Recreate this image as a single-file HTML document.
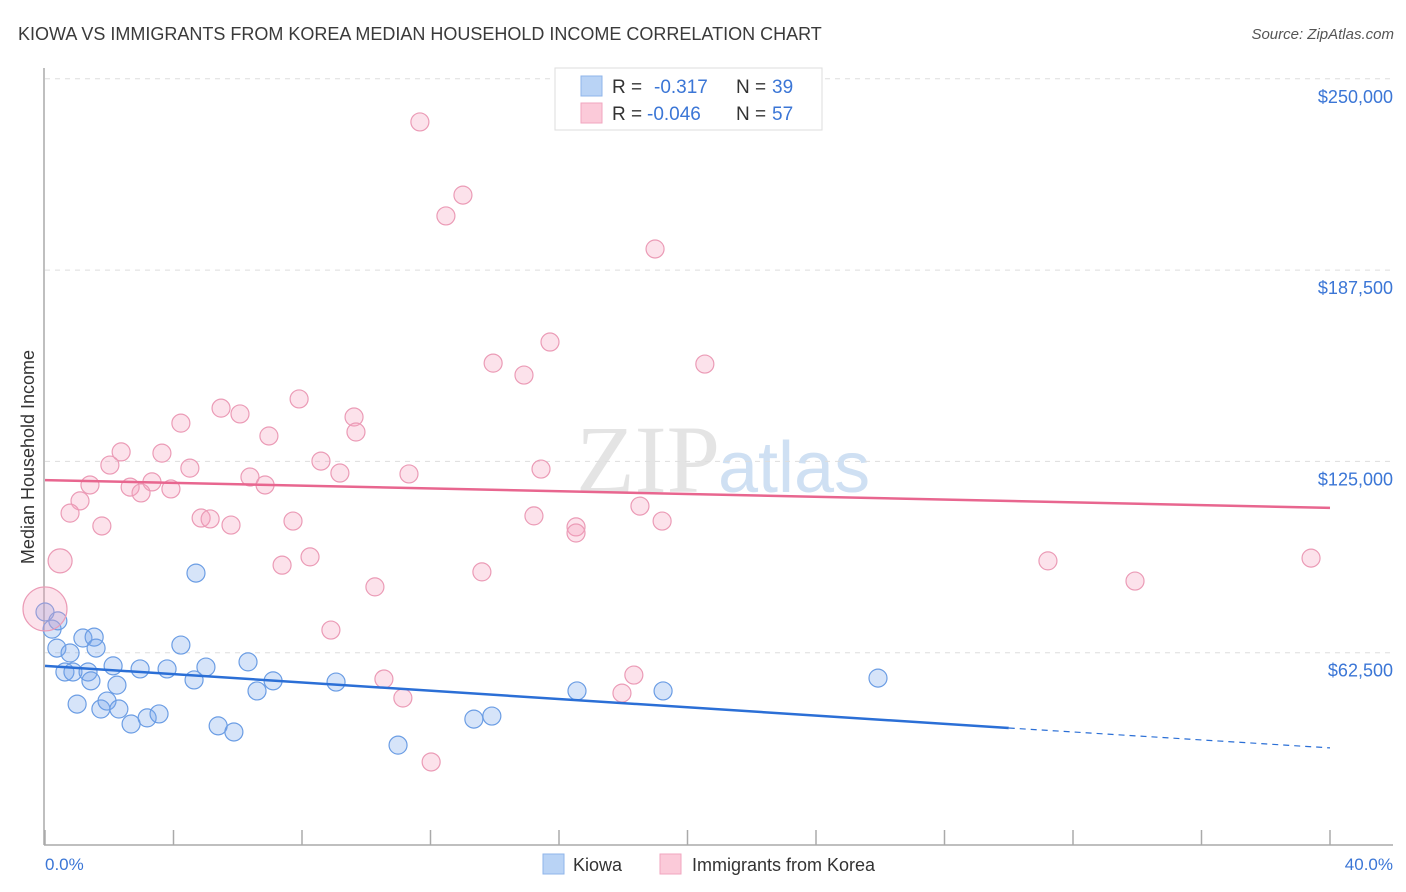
<!DOCTYPE html>
<html><head><meta charset="utf-8"><style>
body{margin:0;background:#fff;font-family:"Liberation Sans",sans-serif;}
#wrap{position:relative;width:1406px;height:892px;overflow:hidden;}
</style></head><body>
<div id="wrap">
<svg id="svg" width="1406" height="892" xmlns="http://www.w3.org/2000/svg">
<text x="18" y="40" font-size="18" fill="#3a3a3a">KIOWA VS IMMIGRANTS FROM KOREA MEDIAN HOUSEHOLD INCOME CORRELATION CHART</text>
<text x="1394" y="39" font-size="15" fill="#555" font-style="italic" text-anchor="end">Source: ZipAtlas.com</text>
<text x="720" y="492" font-size="96" fill="#e4e4e4" text-anchor="end" font-family="Liberation Serif">ZIP</text>
<text x="718" y="492" font-size="72" fill="#cfe0f3">atlas</text>
<g id="grid"></g><g id="axes"></g><g id="pts"></g><g id="trend"></g>
<text transform="translate(34,457) rotate(-90)" font-size="18" fill="#333" text-anchor="middle">Median Household Income</text>
<text x="45" y="870" font-size="17" fill="#3b76d6">0.0%</text>
<text x="1393" y="870" font-size="17" fill="#3b76d6" text-anchor="end">40.0%</text>
<g>
<rect x="555" y="68" width="267" height="62" fill="#fff" stroke="#ddd"/>
<rect x="581" y="76" width="21" height="20" fill="#b9d3f5" stroke="#8fb5ea"/>
<rect x="581" y="103" width="21" height="20" fill="#fbcad9" stroke="#f0a6bf"/>
<text x="612" y="93" font-size="19" fill="#333">R = </text><text x="654" y="93" font-size="19" fill="#3b76d6">-0.317</text>
<text x="736" y="93" font-size="19" fill="#333">N = </text><text x="772" y="93" font-size="19" fill="#3b76d6">39</text>
<text x="612" y="120" font-size="19" fill="#333">R = </text><text x="647" y="120" font-size="19" fill="#3b76d6">-0.046</text>
<text x="736" y="120" font-size="19" fill="#333">N = </text><text x="772" y="120" font-size="19" fill="#3b76d6">57</text>
</g>
<g>
<rect x="543" y="854" width="21" height="20" fill="#b9d3f5" stroke="#8fb5ea"/>
<text x="573" y="871" font-size="18" fill="#333">Kiowa</text>
<rect x="660" y="854" width="21" height="20" fill="#fbcad9" stroke="#f0a6bf"/>
<text x="692" y="871" font-size="18" fill="#333">Immigrants from Korea</text>
</g>
</svg>
</div>
<script>
const yTicks=[62500,125000,187500,250000];
const yTickLabels=["$62,500","$125,000","$187,500","$250,000"];
const xTicks=[0,4,8,12,16,20,24,28,32,36,40];
const kiowaX=[0,0.22,0.40,0.37,0.78,0.62,0.87,1.18,1.53,1.59,1.34,1.43,2.12,2.24,1.00,1.74,1.93,2.30,2.96,2.68,3.18,3.55,3.80,4.23,4.64,5.01,4.70,5.39,5.88,6.32,6.60,7.10,9.06,10.99,13.35,13.91,16.56,19.24,25.93];
const kiowaY=[75.8,70.2,72.9,64.0,62.4,56.2,56.2,67.3,67.6,64.0,56.2,53.3,58.2,51.9,45.7,44.1,46.7,44.1,57.2,39.2,41.2,42.5,57.2,65.0,53.6,57.8,88.5,38.6,36.6,59.5,50.0,53.3,52.9,32.3,40.8,41.8,50.0,50.0,54.2];
const koreaX=[0,0.47,11.67,13.01,12.48,18.99,15.72,13.95,14.91,20.54,7.91,5.48,6.07,9.62,4.23,9.68,6.97,2.37,3.64,2.02,4.51,8.59,9.18,6.38,11.33,15.44,1.40,2.65,3.33,6.85,3.92,2.99,1.09,0.78,4.86,5.14,5.79,7.72,1.77,15.22,18.52,16.53,16.53,19.21,7.38,8.25,13.60,10.27,8.90,10.55,11.14,18.33,17.96,12.02,31.22,33.93,39.41];
const koreaY=[76.8,92.5,235.9,212.0,205.2,194.4,164.0,157.1,153.2,156.8,145.4,142.4,140.5,139.5,137.5,134.6,133.3,128.1,127.7,123.8,122.8,125.1,121.2,119.9,120.9,122.5,117.3,116.6,118.3,117.3,116.0,114.7,112.1,108.1,106.5,106.2,104.2,105.5,103.9,107.2,110.4,103.6,101.6,105.5,91.1,93.8,88.9,84.0,69.9,53.9,47.7,55.2,49.3,26.8,92.5,85.9,93.4];
const koreaSize=[22,12];
const kiowaTrendX=[0,30,40];
const kiowaTrendY=[58.2,37.9,31.4];
const koreaTrendX=[0,40];
const koreaTrendY=[118.9,109.8];
const NS="http://www.w3.org/2000/svg";
function sx(p){return 45+p*(1285/40);}
function sy(k){return 844-k*1000*(191.3/62500);}
function mk(t,a,parent){const e=document.createElementNS(NS,t);for(const k in a)e.setAttribute(k,a[k]);document.getElementById(parent).appendChild(e);return e;}
yTicks.forEach((v,i)=>{
 const l=mk('line',{x1:45,x2:1393,y1:sy(v/1000),y2:sy(v/1000),stroke:'#ddd','stroke-dasharray':'5,5'},'grid');
 
 
 const t=mk('text',{x:1393,y:sy(v/1000)+24,'font-size':18,fill:'#3b76d6','text-anchor':'end'},'grid');
 t.textContent=yTickLabels[i];
 
 
});
let a=mk('line',{x1:44,x2:44,y1:68,y2:845,stroke:'#aaa','stroke-width':1.5},'axes');


a=mk('line',{x1:44,x2:1393,y1:845,y2:845,stroke:'#aaa','stroke-width':1.5},'axes');


xTicks.forEach(v=>{
 const t=mk('line',{x1:sx(v),x2:sx(v),y1:830,y2:845,stroke:'#aaa','stroke-width':1.5},'axes');
 
 
});
kiowaX.forEach((x,i)=>{
 const c=mk('circle',{cx:sx(x),cy:sy(kiowaY[i]),r:9,fill:'rgba(120,165,235,0.3)',stroke:'#6b9de4','stroke-width':1.2},'pts');
 
 
});
koreaX.forEach((x,i)=>{
 const c=mk('circle',{cx:sx(x),cy:sy(koreaY[i]),r:koreaSize[i]||9,fill:'rgba(245,160,190,0.3)',stroke:'#eb9bb6','stroke-width':1.2},'pts');
 
 
});
let t=mk('line',{x1:sx(kiowaTrendX[0]),y1:sy(kiowaTrendY[0]),x2:sx(kiowaTrendX[1]),y2:sy(kiowaTrendY[1]),stroke:'#2b6fd6','stroke-width':2.5},'trend');


t=mk('line',{x1:sx(kiowaTrendX[1]),y1:sy(kiowaTrendY[1]),x2:sx(kiowaTrendX[2]),y2:sy(kiowaTrendY[2]),stroke:'#2b6fd6','stroke-width':1.2,'stroke-dasharray':'6,5'},'trend');


t=mk('line',{x1:sx(koreaTrendX[0]),y1:sy(koreaTrendY[0]),x2:sx(koreaTrendX[1]),y2:sy(koreaTrendY[1]),stroke:'#e8668f','stroke-width':2.5},'trend');


</script>
</body></html>
